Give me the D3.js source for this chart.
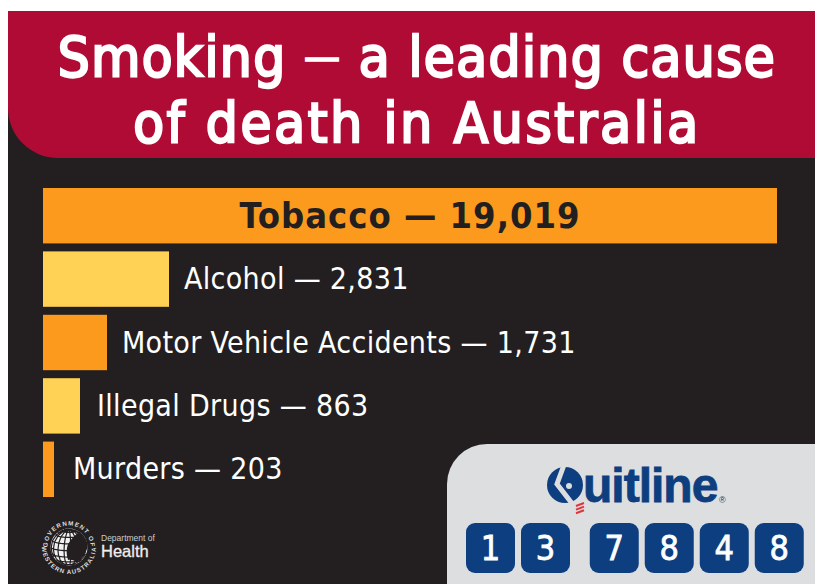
<!DOCTYPE html>
<html>
<head>
<meta charset="utf-8">
<script src="https://cdn.jsdelivr.net/npm/d3@7"></script>
<style>
  html, body { margin: 0; padding: 0; background: #fff; }
  svg { display: block; font-family: "DejaVu Sans", sans-serif; font-stretch: condensed; }
</style>
</head>
<body>
<div id="chart"></div>
<script>
const titleLines = [["Smoking ", "—", " a leading cause"], ["of death in Australia"]];
const categories = ["Tobacco", "Alcohol", "Motor Vehicle Accidents", "Illegal Drugs", "Murders"];
const deaths = [19019, 2831, 1731, 863, 203];
const barColors = ["#fb9a1c", "#ffd154", "#fb9a1c", "#ffd154", "#fb9a1c"];
const phoneDigits = ["1", "3", "7", "8", "4", "8"];
const phoneSlots = [0, 1, 2.25, 3.25, 4.25, 5.25];
const crestLines = ["GOVERNMENT OF", "WESTERN AUSTRALIA"];

const width = 815, height = 584;
const navy = "#0d3f80", panel = "#231f20", boxGrey = "#dcdee0";

const svg = d3.select("#chart").append("svg")
  .attr("width", width)
  .attr("height", height);

svg.append("rect")
  .attr("x", 8).attr("y", 11)
  .attr("width", width - 8).attr("height", height - 11)
  .attr("fill", panel);

// header, only the bottom left corner is round
const path = d3.path();
path.moveTo(8, 11);
path.lineTo(815, 11);
path.lineTo(815, 158);
path.lineTo(58, 158);
path.arcTo(8, 158, 8, 108, 50);
path.closePath();
svg.append("path").attr("d", path.toString()).attr("fill", "#b00b35");

const title = svg.append("g").selectAll("text")
  .data(titleLines)
  .join("text")
  .attr("x", 417)
  .attr("y", (d, i) => 76 + i * 66)
  .attr("text-anchor", "middle")
  .attr("font-size", 56)
  .attr("letter-spacing", (d, i) => i === 0 ? 1.4 : 2.7)
  .attr("fill", "#fff")
  .attr("stroke", "#fff");

// the dash is shorter than the font's own, so it gets a smaller size
title.selectAll("tspan")
  .data(d => d)
  .join("tspan")
  .attr("font-size", d => d === "—" ? 40 : 56)
  .attr("dy", (d, i) => d === "—" ? -5 : (i === 2 ? 5 : 0))
  .attr("stroke-width", d => d === "—" ? 1.6 : 2.4)
  .text(d => d);

// the poster's bars are not to scale, so the scale has one stop per bar
const xScale = d3.scaleLinear()
  .domain([0, 203, 863, 1731, 2831, 19019])
  .range([43, 54, 80, 107, 169, 777]);

const yScale = d3.scaleBand()
  .domain(categories)
  .range([188, 497])
  .paddingInner(0.126);

const labelGap = [0, 15, 15, 17, 19];

const row = svg.selectAll(".row")
  .data(categories)
  .join("g")
  .attr("class", "row");

row.append("rect")
  .attr("x", xScale(0))
  .attr("y", d => yScale(d))
  .attr("width", (d, i) => xScale(deaths[i]) - xScale(0))
  .attr("height", yScale.bandwidth())
  .attr("fill", (d, i) => barColors[i]);

row.append("text")
  .attr("x", (d, i) => i === 0 ? 410 : xScale(deaths[i]) + labelGap[i])
  .attr("y", d => yScale(d) + yScale.bandwidth() / 2 + (d === "Tobacco" ? 12 : 10))
  .attr("text-anchor", (d, i) => i === 0 ? "middle" : "start")
  .attr("font-size", (d, i) => i === 0 ? 36 : 30)
  .attr("letter-spacing", (d, i) => i === 0 ? 1 : 0.33)
  .attr("font-weight", (d, i) => i === 0 ? 700 : 400)
  .attr("fill", (d, i) => i === 0 ? panel : "#fff")
  .text((d, i) => `${d} — ${d3.format(",")(deaths[i])}`);

// Quitline box
const box = d3.path();
box.moveTo(815, 444);
box.lineTo(487, 444);
box.arcTo(447, 444, 447, 484, 40);
box.lineTo(447, 584);
box.lineTo(815, 584);
box.closePath();
svg.append("path").attr("d", box.toString()).attr("fill", boxGrey);

const logo = svg.append("g");
logo.append("circle")
  .attr("cx", 565).attr("cy", 485).attr("r", 18)
  .attr("fill", navy);
logo.append("path")
  .attr("d", "M564 465 L557 484 L574 506")
  .attr("fill", "none")
  .attr("stroke", boxGrey)
  .attr("stroke-width", 5);
logo.append("circle")
  .attr("cx", 569).attr("cy", 486).attr("r", 3)
  .attr("fill", boxGrey);
logo.selectAll("line")
  .data([0, 1, 2])
  .join("line")
  .attr("x1", 576)
  .attr("x2", 584)
  .attr("y1", d => 506 + d * 3.6)
  .attr("y2", d => 503 + d * 3.6)
  .attr("stroke", "#e0353b")
  .attr("stroke-width", 2);
logo.append("text")
  .attr("x", 583).attr("y", 502)
  .attr("font-family", "Liberation Sans")
  .attr("font-weight", 700)
  .attr("font-size", 48)
  .attr("letter-spacing", -1)
  .attr("fill", navy)
  .attr("stroke", navy)
  .attr("stroke-width", 0.8)
  .text("uitline");
logo.append("text")
  .attr("x", 719).attr("y", 503)
  .attr("font-family", "Liberation Sans")
  .attr("font-size", 9)
  .attr("fill", navy)
  .text("®");

// phone number keys, with the gap after the area code
const keyX = d3.scaleLinear().domain([0, 1]).range([466, 521]);

const key = svg.selectAll(".key")
  .data(phoneDigits)
  .join("g")
  .attr("class", "key")
  .attr("transform", (d, i) => `translate(${keyX(phoneSlots[i])},523)`);
key.append("rect")
  .attr("width", 49).attr("height", 50).attr("rx", 9)
  .attr("fill", navy);
key.append("text")
  .attr("x", 24.5).attr("y", 37)
  .attr("text-anchor", "middle")
  .attr("font-size", 34)
  .attr("fill", "#fff")
  .attr("stroke", "#fff")
  .attr("stroke-width", 0.8)
  .text(d => d);

// Department of Health crest
const crest = svg.append("g").attr("transform", "translate(69,547)");
const projection = d3.geoOrthographic()
  .scale(18)
  .translate([0, 0])
  .rotate([28, -12]);
const geo = d3.geoPath(projection);
crest.append("circle").attr("r", 18.5).attr("fill", "#f1f1f1");
crest.append("path")
  .attr("d", geo(d3.geoGraticule().step([22, 22])()))
  .attr("fill", "none")
  .attr("stroke", panel)
  .attr("stroke-width", 1.2);
crest.append("path")
  .attr("d", "M9 -14 C4 -10 -1 -5 -2 1 C-3 5 -2 9 -1 13 C3 12 5 14 8 15 C12 12 16 8 17 4 C19 0 19 -3 18 -5 C16 -10 12 -12 9 -14 Z")
  .attr("fill", panel);
const rings = crest.append("defs");
rings.append("path").attr("id", "crestTop").attr("d", "M-21.5 0 A21.5 21.5 0 0 1 21.5 0");
rings.append("path").attr("id", "crestBottom").attr("d", "M-27 0 A27 27 0 0 0 27 0");
crest.selectAll(".crestText")
  .data(crestLines)
  .join("text")
  .attr("class", "crestText")
  .attr("font-family", "Liberation Sans")
  .attr("font-size", 6.2)
  .attr("font-weight", 700)
  .attr("letter-spacing", 1)
  .attr("fill", "#ddd")
  .append("textPath")
  .attr("href", (d, i) => i === 0 ? "#crestTop" : "#crestBottom")
  .attr("startOffset", "50%")
  .attr("text-anchor", "middle")
  .text(d => d);

svg.append("text")
  .attr("x", 101).attr("y", 541)
  .attr("font-family", "Liberation Sans")
  .attr("font-size", 8.5)
  .attr("fill", "#ccc")
  .text("Department of");
svg.append("text")
  .attr("x", 101).attr("y", 557)
  .attr("font-family", "Liberation Sans")
  .attr("font-size", 16.5)
  .attr("fill", "#eee")
  .attr("stroke", "#eee")
  .attr("stroke-width", 0.3)
  .text("Health");
</script>
</body>
</html>
